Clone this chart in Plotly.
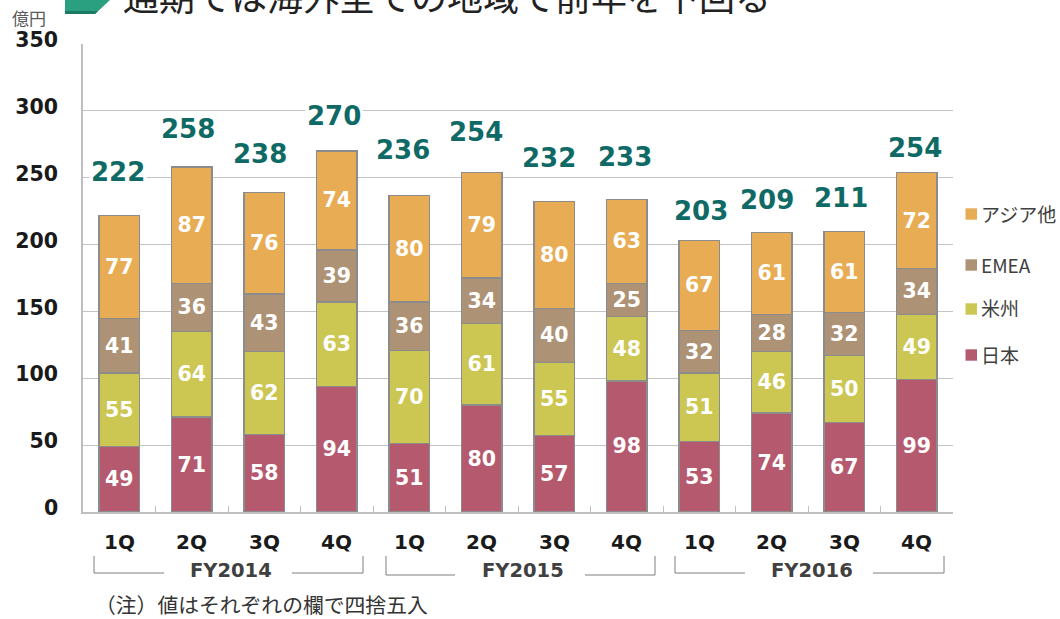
import plotly.graph_objects as go

quarters = ["1Q", "2Q", "3Q", "4Q"] * 3
years = ["FY2014", "FY2015", "FY2016"]
japan = [49, 71, 58, 94, 51, 80, 57, 98, 53, 74, 67, 99]
americas = [55, 64, 62, 63, 70, 61, 55, 48, 51, 46, 50, 49]
emea = [41, 36, 43, 39, 36, 34, 40, 25, 32, 28, 32, 34]
asia = [77, 87, 76, 74, 80, 79, 80, 63, 67, 61, 61, 72]
totals = [222, 258, 238, 270, 236, 254, 232, 233, 203, 209, 211, 254]
y_ticks = [0, 50, 100, 150, 200, 250, 300, 350]
title_text = "通期では海外全ての地域で前年を下回る"
note_text = "（注）値はそれぞれの欄で四捨五入"
unit_text = "億円"

W, H = 1060, 619
L, R, T, B = 83, 953, 44, 512
X = list(range(12))
px = lambda v: (v - L) / (R - L)
py = lambda v: (B - v) / (B - T)
CJK = "Noto Sans CJK JP"
LAT = "DejaVu Sans"

fig = go.Figure()
series = [("日本", japan, "#B55A6E"), ("米州", americas, "#CCC652"),
          ("EMEA", emea, "#AD9275"), ("アジア他", asia, "#E8AC54")]
for name, vals, col in series:
    fig.add_trace(go.Bar(
        x=X, y=vals, name=name, marker=dict(color=col, line=dict(color="#8C8C8C", width=1.2)),
        text=vals, textposition="inside", insidetextanchor="middle", textangle=0,
        textfont=dict(family=LAT, size=20.5, color="white", weight="bold"),
        constraintext="none", cliponaxis=False, width=0.56, showlegend=False))

yshifts = [43, 38, 40, 35, 46, 40, 44, 43, 30, 33, 32, 24]
xshifts = [-1, -4, -4, -3, -6, -6, -5, -2, 2, -5, -3, -2]
for x, t, s, dx in zip(X, totals, yshifts, xshifts):
    fig.add_annotation(x=x, y=t, yref="y", xref="x", text=str(t), showarrow=False, yanchor="middle",
                       xanchor="center", yshift=s, xshift=dx, bgcolor="white", borderpad=1,
                       font=dict(family=LAT, size=26, color="#0F6A66", weight="bold"))


def note(x, y, text, family, size, color, xanchor="left", weight="normal"):
    fig.add_annotation(xref="paper", yref="paper", x=px(x), y=py(y), xanchor=xanchor, yanchor="middle",
                       text=text, showarrow=False,
                       font=dict(family=family, size=size, color=color, weight=weight))


for i, q in enumerate(quarters):
    fig.add_annotation(x=i, xref="x", y=py(542), yref="paper", text=q, showarrow=False,
                       xanchor="center", yanchor="middle",
                       font=dict(family=LAT, size=20, color="#1a1a1a", weight="bold"))

leg_y = [354, 307, 264, 213]
for (name, vals, col), yy, sw in zip(series, leg_y, [355, 309, 265, 214]):
    fig.add_shape(type="rect", xref="paper", yref="paper", x0=px(965.5), x1=px(977),
                  y0=py(sw + 5.7), y1=py(sw - 5.7), fillcolor=col, line_width=0)
    note(979, yy, name, CJK, 19, "#404040")

brackets = [(94, 164, 292, 363, 573), (386, 455, 585, 655, 575), (675, 745, 873, 944, 573)]
year_x = [231, 523, 812]
for yr, yc, (a, b, c, d, base) in zip(years, year_x, brackets):
    for xs, ys in (([a, a, b], [556, base, base]), ([c, d, d], [base, base, 556])):
        path = "M " + " L ".join(f"{px(u)},{py(w)}" for u, w in zip(xs, ys))
        fig.add_shape(type="path", xref="paper", yref="paper", path=path,
                      line=dict(color="#7F7F7F", width=1))
    note(yc, 570, yr, LAT, 19.5, "#404040", xanchor="center", weight="bold")

note(93, 604, note_text, CJK, 20.8, "#333333")
note(10, 18, unit_text, CJK, 17, "#595959")
note(121, -5, title_text, CJK, 36, "#222222")

fig.add_shape(type="path", xref="paper", yref="paper", fillcolor="#2AA080", line_width=0,
              path=f"M {px(65)},{py(0)} L {px(110)},{py(0)} L {px(95)},{py(14)} L {px(65)},{py(14)} Z")
fig.add_shape(type="path", xref="paper", yref="paper", fillcolor="#1A7A62", line_width=0,
              path=f"M {px(65)},{py(11)} L {px(98)},{py(11)} L {px(95)},{py(14)} L {px(65)},{py(14)} Z")

fig.update_layout(
    width=W, height=H, barmode="stack", paper_bgcolor="white", plot_bgcolor="white",
    margin=dict(l=L, r=W - R, t=T, b=H - B, pad=0), showlegend=False,
    xaxis=dict(range=[-0.5, 11.5], showticklabels=False, ticks="inside",
               tickvals=[i + 0.5 for i in range(11)],
               ticklen=6, tickcolor="#BFBFBF", showgrid=False, zeroline=False,
               showline=True, linecolor="#BFBFBF", linewidth=1.5),
    yaxis=dict(range=[0, 350], tickvals=y_ticks, gridcolor="#C4C4C4", gridwidth=1.2, ticks="",
               showline=True, linecolor="#BFBFBF", linewidth=1.5, zeroline=False,
               tickfont=dict(family=LAT, size=20.5, color="#1a1a1a", weight="bold"),
               ticklabelstandoff=19, ticklabelshift=-4),
)
fig.write_html("out.html", config={"displayModeBar": False},
               post_script="document.body.style.margin='0';document.documentElement.style.overflow='hidden';")
